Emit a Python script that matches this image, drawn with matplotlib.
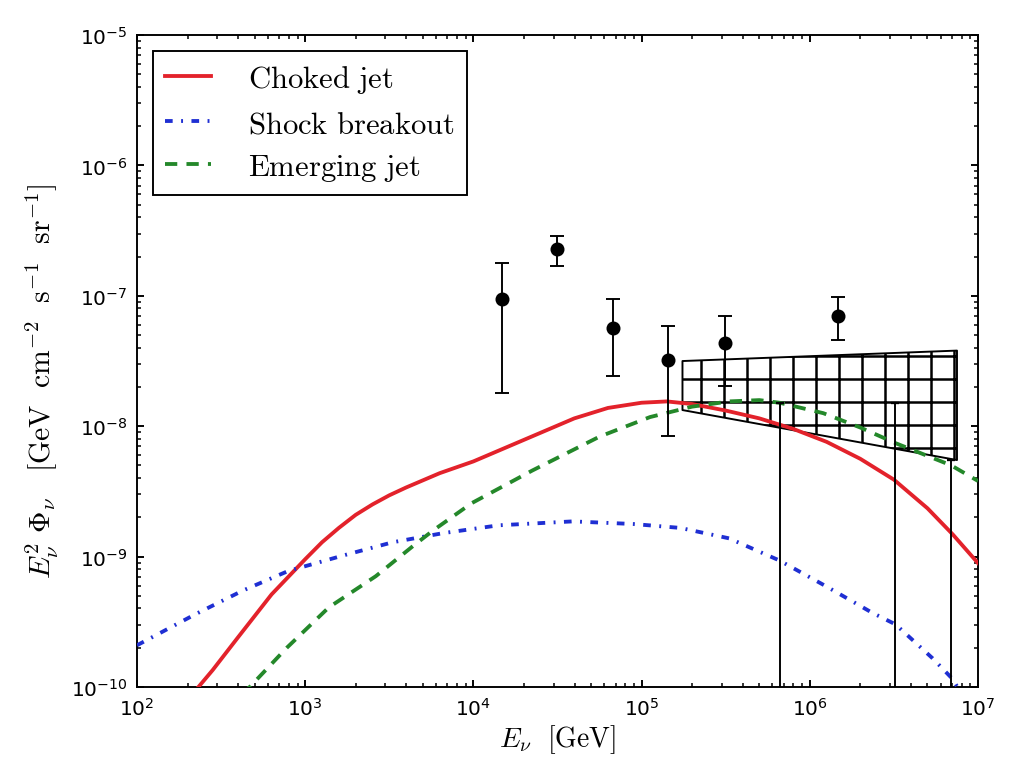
import numpy as np
import matplotlib
matplotlib.use("Agg")
import matplotlib.pyplot as plt

# ---- data ----
choked_E = [10**v for v in [2.30, 2.45, 2.60, 2.80, 3.00, 3.10, 3.20, 3.30, 3.40, 3.50, 3.60, 3.80,
                            4.00, 4.20, 4.40, 4.60, 4.80, 5.00, 5.15, 5.30, 5.50, 5.70, 5.90, 6.10,
                            6.30, 6.50, 6.70, 6.85, 7.00]]
choked_F = [10**v for v in [-10.10, -9.87, -9.62, -9.29, -9.02, -8.89, -8.78, -8.68, -8.60, -8.53,
                            -8.47, -8.36, -8.27, -8.16, -8.05, -7.94, -7.86, -7.82, -7.81, -7.83,
                            -7.88, -7.94, -8.02, -8.12, -8.25, -8.41, -8.63, -8.83, -9.05]]

shock_E = [10**v for v in [2.00, 2.35, 2.63, 2.90, 3.23, 3.52, 3.82, 4.15, 4.59, 4.95, 5.23, 5.52,
                           5.82, 6.10, 6.37, 6.51, 6.73, 6.85, 6.90]]
shock_F = [10**v for v in [-9.68, -9.44, -9.26, -9.11, -8.99, -8.89, -8.82, -8.76, -8.73, -8.75,
                           -8.78, -8.86, -9.03, -9.23, -9.43, -9.52, -9.78, -9.94, -10.05]]

emerg_E = [10**v for v in [2.62, 2.67, 2.89, 3.14, 3.42, 3.64, 3.76, 3.99, 4.35, 4.75, 5.05, 5.30,
                           5.52, 5.70, 5.82, 6.08, 6.30, 6.51, 6.84, 7.00]]
emerg_F = [10**v for v in [-10.05, -10.00, -9.70, -9.39, -9.15, -8.92, -8.80, -8.59, -8.34, -8.08,
                           -7.93, -7.85, -7.81, -7.80, -7.82, -7.90, -8.01, -8.13, -8.30, -8.42]]

# IceCube-like data points with error bars
pts_E = [1.47e4, 3.16e4, 6.8e4, 1.43e5, 3.12e5, 1.47e6]
pts_F = [9.5e-8, 2.30e-7, 5.68e-8, 3.22e-8, 4.35e-8, 7.02e-8]
pts_hi = [1.79e-7, 2.89e-7, 9.5e-8, 5.88e-8, 7.02e-8, 9.8e-8]
pts_lo = [1.79e-8, 1.70e-7, 2.42e-8, 8.4e-9, 2.03e-8, 4.6e-8]

# upper limits (bars extend to zero)
ul_E = [6.62e5, 3.21e6, 6.9e6]
ul_F = [1.5e-8, 1.5e-8, 5.5e-9]

# best-fit power-law band
band_E = [1.75e5, 7.5e6]
band_hi = [3.16e-8, 3.8e-8]
band_lo = [1.33e-8, 5.5e-9]

xticks = [1e2, 1e3, 1e4, 1e5, 1e6, 1e7]
yticks = [1e-10, 1e-9, 1e-8, 1e-7, 1e-6, 1e-5]

# ---- figure ----
DPI = 138
plt.rcParams['hatch.linewidth'] = 1.3
fig = plt.figure(figsize=(1017 / DPI, 773 / DPI), dpi=DPI)
ax = fig.add_axes([137 / 1017, 1 - 688 / 773, (978 - 137) / 1017, (688 - 36) / 773])
ax.set_xscale('log')
ax.set_yscale('log')
ax.set_xlim(1e2, 1e7)
ax.set_ylim(1e-10, 1e-5)

red = '#e3222b'
blue = '#1f2fd3'
green = '#24882a'

ax.plot(choked_E, choked_F, color=red, lw=2.0, label=r'$\mathrm{Choked\ jet}$', zorder=3)
ax.plot(shock_E, shock_F, color=blue, lw=2.0, ls=(0, (2.0, 2.2, 0.5, 2.2)),
        label=r'$\mathrm{Shock\ breakout}$', zorder=3)
ax.plot(emerg_E, emerg_F, color=green, lw=2.0, ls=(0, (3.2, 2.4)),
        label=r'$\mathrm{Emerging\ jet}$', zorder=3)

# hatched band
ax.fill_between(band_E, band_lo, band_hi, facecolor='none', edgecolor='black',
                hatch='+', linewidth=1.0, zorder=2)

# data points
yerr = [np.array(pts_F) - np.array(pts_lo), np.array(pts_hi) - np.array(pts_F)]
ax.errorbar(pts_E, pts_F, yerr=yerr, fmt='o', color='black', ms=6.3, elinewidth=1.0,
            capsize=3.4, capthick=1.0, zorder=4)

# upper limits
ax.vlines(ul_E, 1e-12, ul_F, color='black', lw=1.0, zorder=4)
ax.plot(ul_E, ul_F, ls='none', marker='_', ms=4.5, mew=1.2, color='black', zorder=4)

ax.set_xticks(xticks)
ax.set_yticks(yticks)
ax.tick_params(which='both', direction='in', top=True, right=True)
ax.tick_params(which='major', length=3.8, width=1.0, labelsize=10.5, pad=5)
ax.tick_params(which='minor', length=2.0, width=0.8)
for s in ax.spines.values():
    s.set_linewidth(1.0)

ax.set_xlabel(r'$E_\nu\ \ [\mathrm{GeV}]$', fontsize=14.5, math_fontfamily='cm', labelpad=2)
ax.set_ylabel(r'$E_\nu^2\ \Phi_\nu\ \ \ [\mathrm{GeV\ \ cm^{-2}\ \ s^{-1}\ \ sr^{-1}}]$',
              fontsize=15.5, math_fontfamily='cm')
ax.yaxis.set_label_coords(-0.09, 0.47)

leg = ax.legend(loc='upper left', fontsize=16, frameon=True, fancybox=False,
                edgecolor='black', framealpha=1, handlelength=1.5, handletextpad=1.2,
                borderaxespad=0.52, labelspacing=0.45, borderpad=0.4)
leg.get_frame().set_linewidth(1.0)
for t in leg.get_texts():
    t.set_math_fontfamily('cm')

fig.savefig('out.png', dpi=DPI)
